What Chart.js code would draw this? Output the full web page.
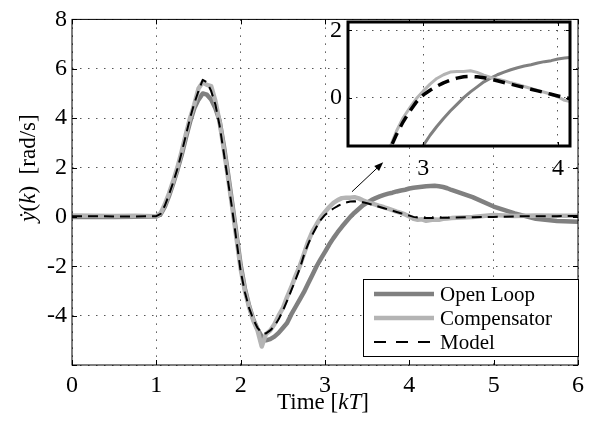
<!DOCTYPE html>
<html>
<head>
<meta charset="utf-8">
<script src="https://cdn.jsdelivr.net/npm/chart.js@4.4.0/dist/chart.umd.min.js"></script>
<style>
  body { margin: 0; background: #fff; }
  #wrap { position: relative; width: 593px; height: 422px; }
  #main { position: absolute; left: 0; top: 0; }
  #inset { position: absolute; left: 310px; top: 0; }
</style>
</head>
<body>
<div id="wrap">
  <canvas id="main" width="593" height="422"></canvas>
  <canvas id="inset" width="270" height="190"></canvas>
</div>
<script>
// time axis in kT
const time = [
  0, 0.25, 0.5, 0.75,
  1.00, 1.05, 1.10, 1.15, 1.20, 1.25, 1.30, 1.35, 1.40, 1.45,
  1.50, 1.55, 1.60, 1.65, 1.70, 1.75, 1.80, 1.85, 1.90, 1.95,
  2.00, 2.05, 2.10, 2.15, 2.20, 2.25, 2.30, 2.35, 2.40, 2.45,
  2.50, 2.55, 2.60, 2.65, 2.70, 2.75, 2.80, 2.85, 2.90, 2.95,
  3.00, 3.05, 3.10, 3.15, 3.20, 3.25, 3.30, 3.35, 3.40, 3.45,
  3.50, 3.55, 3.60, 3.65, 3.70, 3.75, 3.80, 3.85, 3.90, 3.95,
  4.00, 4.05, 4.10, 4.15, 4.20, 4.25, 4.30, 4.35, 4.40, 4.45,
  4.50, 4.75, 5.0, 5.25, 5.5, 5.75, 6.0
];

const openLoop = [
  0.0, 0.01, 0.0, 0.01,
  0.02, 0.1, 0.4, 0.85, 1.35, 1.9, 2.5, 3.2, 3.85, 4.4,
  4.75, 5.0, 4.95, 4.75, 4.4, 3.9, 2.9, 1.75, 0.55, -0.7,
  -1.95, -2.9, -3.6, -4.15, -4.55, -4.85, -5.0, -4.95, -4.85, -4.7,
  -4.5, -4.3, -3.95, -3.65, -3.35, -3.05, -2.7, -2.35, -2.0, -1.7,
  -1.42, -1.12, -0.86, -0.62, -0.4, -0.2, 0.0, 0.17, 0.32, 0.47,
  0.58, 0.68, 0.76, 0.83, 0.89, 0.94, 0.98, 1.03, 1.07, 1.1,
  1.15, 1.18, 1.2, 1.22, 1.24, 1.25, 1.26, 1.24, 1.21, 1.16,
  1.09, 0.8, 0.42, 0.14, -0.08, -0.17, -0.2
];

const compensator = [
  0.06, 0.05, 0.04, 0.05,
  0.03, 0.15, 0.5, 0.95, 1.45, 2.0, 2.65, 3.35, 4.0, 4.55,
  5.2, 5.45, 5.35, 5.3, 4.7, 3.85, 2.75, 1.6, 0.4, -0.85,
  -2.1, -3.0, -3.65, -4.2, -4.6, -5.25, -4.75, -4.6, -4.35, -4.0,
  -3.7, -3.25, -2.85, -2.4, -2.0, -1.5, -1.0, -0.6, -0.3, -0.02,
  0.2, 0.4, 0.57, 0.68, 0.76, 0.78, 0.78, 0.8, 0.75, 0.67,
  0.6, 0.55, 0.5, 0.44, 0.39, 0.33, 0.27, 0.21, 0.16, 0.1,
  0.02, -0.08, -0.12, -0.1, -0.16, -0.13, -0.11, -0.12, -0.08, -0.07,
  -0.05, 0.0, 0.08, 0.04, 0.06, 0.05, 0.05
];

const model = [
  0.03, 0.03, 0.02, 0.02,
  0.03, 0.12, 0.45, 0.9, 1.4, 1.95, 2.6, 3.3, 4.0, 4.6,
  5.1, 5.55, 5.45, 5.1, 4.55, 3.7, 2.6, 1.45, 0.3, -0.95,
  -2.2, -3.05, -3.7, -4.15, -4.5, -4.7, -4.72, -4.6, -4.42, -4.15,
  -3.8, -3.4, -2.98, -2.55, -2.1, -1.55, -1.1, -0.72, -0.4, -0.12,
  0.08, 0.22, 0.34, 0.44, 0.52, 0.58, 0.62, 0.63, 0.62, 0.59,
  0.55, 0.5, 0.45, 0.4, 0.35, 0.3, 0.25, 0.2, 0.15, 0.1,
  0.05, 0.0, -0.03, -0.05, -0.05, -0.05, -0.05, -0.04, -0.04, -0.03,
  -0.03, -0.01, 0.0, 0.02, 0.03, 0.03, 0.04
];

const seriesNames = ['Open Loop', 'Compensator', 'Model'];
const xTicks = [0, 1, 2, 3, 4, 5, 6];
const yTicks = [-6, -4, -2, 0, 2, 4, 6, 8];
const insetXTicks = [3, 4];
const insetYTicks = [0, 2];

// arrow pointing from the curve to the zoomed box (data units)
const arrowFrom = [3.32, 1.02];
const arrowTo = [3.69, 2.21];

const SERIF = '"Liberation Serif", "Times New Roman", serif';

function points(ys) {
  return time.map((t, i) => ({ x: t, y: ys[i] }));
}

// order: lower number is drawn on top, so the model dash stays visible
function makeDatasets(inset) {
  return [
    { label: seriesNames[0], data: points(openLoop), borderColor: '#808080', order: 2,
      borderWidth: inset ? 3 : 4.5, borderDash: [] },
    { label: seriesNames[1], data: points(compensator), borderColor: '#b4b4b4', order: 1,
      borderWidth: inset ? 3 : 4.5, borderDash: [] },
    { label: seriesNames[2], data: points(model), borderColor: '#000', order: 0,
      borderWidth: inset ? 3.5 : 2, borderDash: inset ? [12, 7] : [10, 6] }
  ];
}

function drawRuns(ctx, runs, size, x, y) {
  // runs drawn centred on x
  const fontOf = r => (r.it ? 'italic ' : '') + size + 'px ' + SERIF;
  let total = 0;
  runs.forEach(r => { ctx.font = fontOf(r); total += ctx.measureText(r.t).width; });
  let cx = x - total / 2;
  runs.forEach(r => {
    ctx.font = fontOf(r);
    ctx.fillText(r.t, cx, y);
    cx += ctx.measureText(r.t).width;
  });
}

function framePlugin(width, tickLen) {
  return {
    id: 'frame',
    afterDraw(chart) {
      const { ctx, chartArea: a, scales: { x, y } } = chart;
      ctx.save();
      ctx.strokeStyle = '#000';
      ctx.lineWidth = 1;
      ctx.beginPath();
      x.ticks.forEach(t => {
        const px = Math.round(x.getPixelForValue(t.value)) + 0.5;
        ctx.moveTo(px, a.bottom); ctx.lineTo(px, a.bottom - tickLen);
        ctx.moveTo(px, a.top); ctx.lineTo(px, a.top + tickLen);
      });
      y.ticks.forEach(t => {
        const py = Math.round(y.getPixelForValue(t.value)) + 0.5;
        ctx.moveTo(a.left, py); ctx.lineTo(a.left + tickLen, py);
        ctx.moveTo(a.right, py); ctx.lineTo(a.right - tickLen, py);
      });
      ctx.stroke();
      ctx.lineWidth = width;
      ctx.strokeRect(a.left, a.top, a.right - a.left, a.bottom - a.top);
      ctx.restore();
    }
  };
}

const extrasPlugin = {
  id: 'extras',
  afterDraw(chart) {
    const { ctx, scales: { x, y } } = chart;
    ctx.save();
    ctx.fillStyle = '#000';

    // arrow
    const x0 = x.getPixelForValue(arrowFrom[0]), y0 = y.getPixelForValue(arrowFrom[1]);
    const x1 = x.getPixelForValue(arrowTo[0]), y1 = y.getPixelForValue(arrowTo[1]);
    const ang = Math.atan2(y1 - y0, x1 - x0);
    ctx.strokeStyle = '#000';
    ctx.lineWidth = 1;
    ctx.beginPath();
    ctx.moveTo(x0, y0);
    ctx.lineTo(x1 - 6 * Math.cos(ang), y1 - 6 * Math.sin(ang));
    ctx.stroke();
    ctx.beginPath();
    ctx.moveTo(x1, y1);
    ctx.lineTo(x1 - 9 * Math.cos(ang) + 3.5 * Math.sin(ang), y1 - 9 * Math.sin(ang) - 3.5 * Math.cos(ang));
    ctx.lineTo(x1 - 9 * Math.cos(ang) - 3.5 * Math.sin(ang), y1 - 9 * Math.sin(ang) + 3.5 * Math.cos(ang));
    ctx.closePath();
    ctx.fill();

    // axis titles
    ctx.textBaseline = 'alphabetic';
    drawRuns(ctx, [{ t: 'Time [' }, { t: 'kT', it: true }, { t: ']' }], 23, 323, 409);
    ctx.save();
    ctx.translate(35, 168);
    ctx.rotate(-Math.PI / 2);
    drawRuns(ctx, [{ t: 'ẏ', it: true }, { t: '(' }, { t: 'k', it: true }, { t: ')' }, { t: '  [rad/s]' }], 23, 0, 0);
    ctx.restore();

    // legend
    const lx = 363, ly = 279, lw = 215, lh = 77;
    ctx.fillStyle = '#fff';
    ctx.fillRect(lx, ly, lw, lh);
    ctx.lineWidth = 1;
    ctx.strokeStyle = '#000';
    ctx.strokeRect(lx + 0.5, ly + 0.5, lw, lh);
    const rows = [294, 318, 342];
    chart.data.datasets.forEach((ds, i) => {
      ctx.strokeStyle = ds.borderColor;
      ctx.lineWidth = ds.borderWidth;
      ctx.setLineDash(ds.borderDash.length ? [12, 10] : []);
      ctx.beginPath();
      ctx.moveTo(374, rows[i]);
      ctx.lineTo(434, rows[i]);
      ctx.stroke();
      ctx.setLineDash([]);
      ctx.fillStyle = '#000';
      ctx.font = '21px ' + SERIF;
      ctx.textBaseline = 'middle';
      ctx.fillText(ds.label, 440, rows[i] + 1);
    });
    ctx.restore();
  }
};

const insetBackground = {
  id: 'insetBackground',
  beforeDraw(chart) {
    const { ctx, chartArea: a } = chart;
    ctx.save();
    ctx.fillStyle = '#fff';
    ctx.fillRect(a.left, a.top, a.right - a.left, a.bottom - a.top);
    ctx.restore();
  }
};

const tickFont = { family: SERIF, size: 24 };
const gridStyle = { color: '#555', lineWidth: 1, drawTicks: false };
const borderStyle = { display: false, dash: [1.5, 6.5] };

new Chart(document.getElementById('main'), {
  type: 'line',
  data: { datasets: makeDatasets(false) },
  options: {
    responsive: false,
    animation: false,
    layout: { padding: { top: 13, right: 15, left: 0, bottom: 0 } },
    plugins: { legend: { display: false }, tooltip: { enabled: false } },
    elements: { point: { radius: 0 }, line: { tension: 0, borderJoinStyle: 'round' } },
    scales: {
      x: {
        type: 'linear', min: 0, max: 6,
        afterBuildTicks: s => { s.ticks = xTicks.map(v => ({ value: v })); },
        afterFit: s => { s.height = 57; },
        ticks: { font: tickFont, color: '#000', padding: 6, maxRotation: 0 },
        grid: gridStyle, border: borderStyle
      },
      y: {
        type: 'linear', min: -6, max: 8,
        afterBuildTicks: s => { s.ticks = yTicks.map(v => ({ value: v })); },
        afterFit: s => { s.width = 72; },
        ticks: { font: tickFont, color: '#000', padding: 5, callback: v => (v === -6 ? '' : v) },
        grid: gridStyle, border: borderStyle
      }
    }
  },
  plugins: [framePlugin(1, 5), extrasPlugin]
});

new Chart(document.getElementById('inset'), {
  type: 'line',
  data: { datasets: makeDatasets(true) },
  options: {
    responsive: false,
    animation: false,
    layout: { padding: { top: 22, right: 10, left: 0, bottom: 0 } },
    plugins: { legend: { display: false }, tooltip: { enabled: false } },
    elements: { point: { radius: 0 }, line: { tension: 0, borderJoinStyle: 'round' } },
    scales: {
      x: {
        type: 'linear', min: 2.44, max: 4.09,
        afterBuildTicks: s => { s.ticks = insetXTicks.map(v => ({ value: v })); },
        afterFit: s => { s.height = 44; },
        ticks: { font: tickFont, color: '#000', padding: 8, maxRotation: 0 },
        grid: gridStyle, border: borderStyle
      },
      y: {
        type: 'linear', min: -1.44, max: 2.25,
        afterBuildTicks: s => { s.ticks = insetYTicks.map(v => ({ value: v })); },
        afterFit: s => { s.width = 38; },
        ticks: { font: tickFont, color: '#000', padding: 6 },
        grid: gridStyle, border: borderStyle
      }
    }
  },
  plugins: [insetBackground, framePlugin(3, 4)]
});
</script>
</body>
</html>
